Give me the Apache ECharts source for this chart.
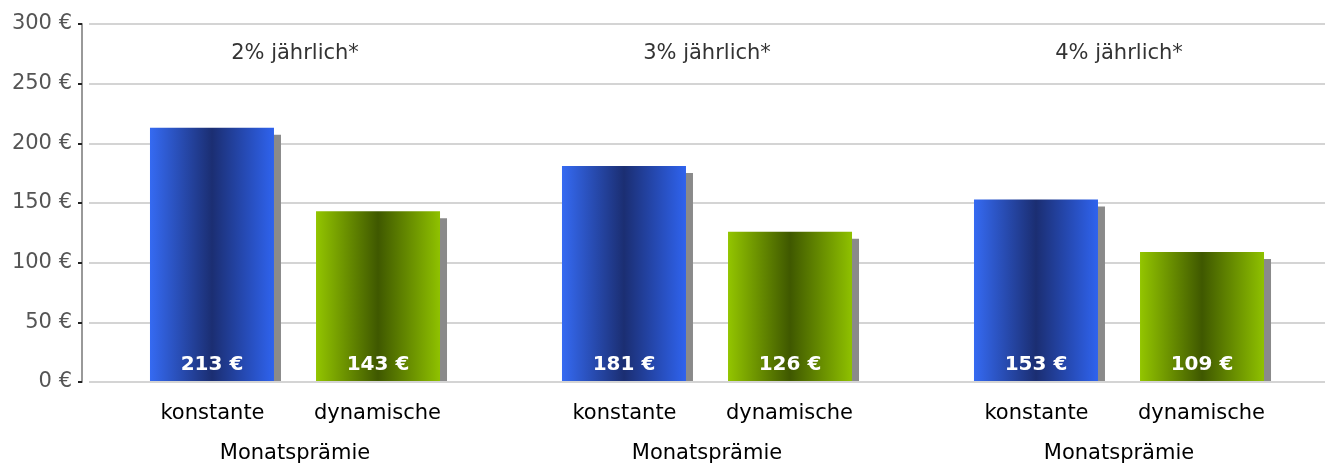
<!DOCTYPE html>
<html>
<head>
<meta charset="utf-8">
<script src="https://cdn.jsdelivr.net/npm/echarts@6/dist/echarts.min.js"></script>
<style>
  html, body { margin: 0; padding: 0; background: #fff; }
  #chart { width: 1325px; height: 466px; }
</style>
</head>
<body>
<div id="chart"></div>
<script>
// ---- data ----
const groupTitles = ['2% jährlich*', '3% jährlich*', '4% jährlich*'];
const seriesNames = ['konstante', 'dynamische'];
const groupSubLabel = 'Monatsprämie';
const konstante = [213, 181, 153];
const dynamische = [143, 126, 109];
const yMin = 0, yMax = 300, yStep = 50;
const currency = '€';

// ---- styles ----
const FONT = 'DejaVu Sans';
function hGrad(edgeL, mid, edgeR) {
  return new echarts.graphic.LinearGradient(0, 0, 1, 0, [
    { offset: 0, color: edgeL },
    { offset: 0.5, color: mid },
    { offset: 1, color: edgeR }
  ]);
}
const blueFill = hGrad('#356af2', '#1b2e72', '#2f63ee');
const greenFill = hGrad('#93c500', '#3f5800', '#8fc100');
const gridColor = '#d4d4d4';

function barSeries(name, values, fill) {
  return {
    type: 'bar',
    name: name,
    data: values,
    barWidth: 124,
    barGap: '33.9%',
    itemStyle: {
      color: fill,
      shadowColor: '#8a8a8a',
      shadowBlur: 0,
      shadowOffsetX: 7,
      shadowOffsetY: 7
    },
    label: {
      show: true,
      position: 'insideBottom',
      distance: 7,
      formatter: p => p.value + ' ' + currency,
      color: '#fff',
      fontFamily: FONT,
      fontWeight: 'bold',
      fontSize: 20
    },
    emphasis: { disabled: true },
    z: 3
  };
}

const chart = echarts.init(document.getElementById('chart'), null, { renderer: 'canvas' });
chart.setOption({
  animation: false,
  backgroundColor: '#fff',
  grid: { left: 89, right: 0, top: 24, bottom: 84 },
  xAxis: [
    {
      type: 'category',
      data: groupTitles,
      position: 'bottom',
      axisLine: { show: false },
      axisTick: { show: false },
      axisLabel: {
        margin: 12,
        interval: 0,
        formatter: () => '{a|' + seriesNames[0] + '}{b|' + seriesNames[1] + '}\n{c|' + groupSubLabel + '}',
        rich: {
          a: { width: 165, align: 'center', fontFamily: FONT, fontSize: 21, color: '#000', lineHeight: 40 },
          b: { width: 165, align: 'center', fontFamily: FONT, fontSize: 21, color: '#000', lineHeight: 40 },
          c: { align: 'center', fontFamily: FONT, fontSize: 21, color: '#000', lineHeight: 40 }
        }
      }
    },
    {
      type: 'category',
      data: groupTitles,
      position: 'top',
      axisLine: { show: false },
      axisTick: { show: false },
      axisLabel: {
        inside: true,
        margin: 19,
        interval: 0,
        fontFamily: FONT,
        fontSize: 21,
        color: '#333'
      }
    }
  ],
  yAxis: {
    type: 'value',
    min: yMin,
    max: yMax,
    interval: yStep,
    offset: 7,
    axisLine: { show: true, lineStyle: { color: '#999', width: 2 } },
    axisTick: { show: true, length: 4, lineStyle: { color: '#222', width: 2 } },
    axisLabel: {
      margin: 10,
      formatter: v => v + ' ' + currency,
      fontFamily: FONT,
      fontSize: 21,
      color: '#555'
    },
    splitLine: { show: true, lineStyle: { color: gridColor, width: 2 } }
  },
  series: [
    barSeries(seriesNames[0], konstante, blueFill),
    barSeries(seriesNames[1], dynamische, greenFill)
  ],
  graphic: [
    {
      type: 'rect',
      left: 89,
      top: 383,
      shape: { width: 1236, height: 10 },
      style: { fill: '#fff' },
      z: 100,
      silent: true
    },
    {
      type: 'rect',
      left: 89,
      top: 381,
      shape: { width: 1236, height: 2 },
      style: { fill: gridColor },
      z: 101,
      silent: true
    }
  ]
});
</script>
</body>
</html>
